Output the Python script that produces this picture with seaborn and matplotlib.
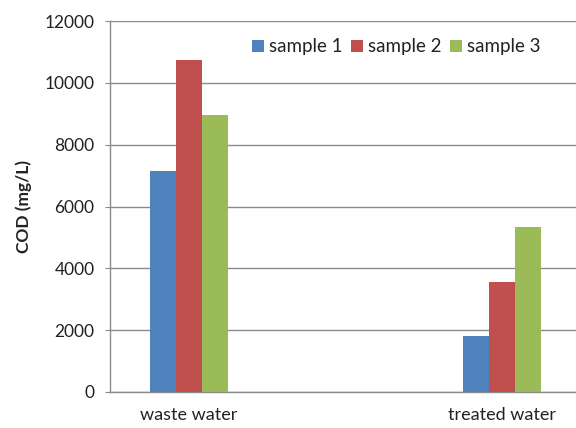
import matplotlib
matplotlib.use("Agg")
import matplotlib.pyplot as plt
import pandas as pd
import seaborn as sns

categories = ["waste water", "treated water"]
samples = ["sample 1", "sample 2", "sample 3"]
sample1 = [7150, 1800]
sample2 = [10750, 3570]
sample3 = [8950, 5350]
colors = ["#4F81BD", "#C0504D", "#9BBB59"]

rows = []
for s, vals in zip(samples, [sample1, sample2, sample3]):
    for c, v in zip(categories, vals):
        rows.append({"water": c, "sample": s, "COD": v})
df = pd.DataFrame(rows)

sns.set_style("white")
plt.rcParams["font.family"] = ["Lato", "DejaVu Sans"]

fig = plt.figure(figsize=(5.76, 4.28), dpi=100)
ax = fig.add_axes([110 / 576, 1 - 392 / 428, (576 - 110) / 576, (392 - 21) / 428])

sns.barplot(data=df, x="water", y="COD", hue="sample", order=categories, hue_order=samples,
            palette=colors, width=0.25, saturation=1, errorbar=None, linewidth=0,
            ax=ax, zorder=3)

ax.set_xlim(-0.252, 1.236)
ax.set_ylim(0, 12000)
ax.set_yticks(range(0, 12001, 2000))
ax.yaxis.grid(True, color="#8a8a8a", linewidth=1.0, zorder=0)
ax.set_axisbelow(True)
for side in ["top", "right"]:
    ax.spines[side].set_visible(False)
for side in ["left", "bottom"]:
    ax.spines[side].set_color("#8a8a8a")
    ax.spines[side].set_linewidth(1.0)
ax.tick_params(axis="y", which="major", left=True, length=3.6, color="#8a8a8a",
               labelsize=12.5, labelcolor="#222222", pad=7.5)
ax.tick_params(axis="x", bottom=False, labelsize=13, labelcolor="#222222", pad=7)
ax.set_xlabel("")
ax.set_ylabel("COD (mg/L)", fontsize=12.5, fontweight="bold", color="#222222", labelpad=9)

leg = ax.legend(loc="center left", bbox_to_anchor=(0.305, 0.93), ncol=3, frameon=False,
                fontsize=13.5, handlelength=0.64, handleheight=0.64, handletextpad=0.27,
                columnspacing=0.45, borderaxespad=0, borderpad=0)
for t in leg.get_texts():
    t.set_color("#222222")

fig.savefig("out.png", dpi=100)
